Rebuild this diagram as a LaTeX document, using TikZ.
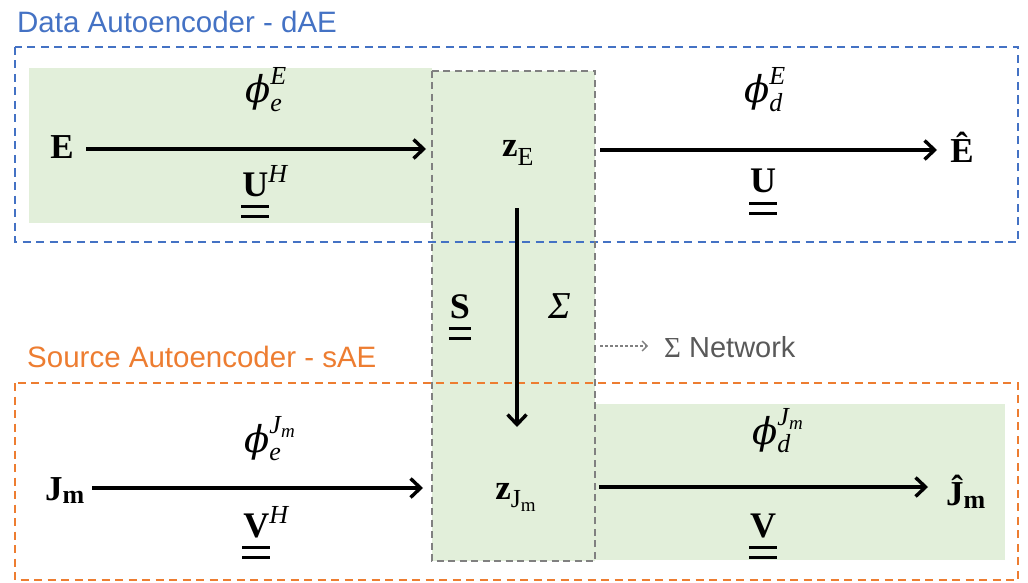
\documentclass[tikz,border=0pt]{standalone}
\usepackage{fontspec}
\setmainfont{Liberation Serif}
\newfontfamily\arialfont{Liberation Sans}
\newfontfamily\phifont{DejaVu Serif}
\usetikzlibrary{arrows.meta}
\definecolor{dblue}{RGB}{68,114,196}
\definecolor{dorange}{RGB}{237,125,49}
\definecolor{lgreen}{RGB}{226,239,218}
\definecolor{dgray}{RGB}{128,128,128}
\definecolor{tgray}{RGB}{89,89,89}
\newcommand{\dul}[1]{\setbox0=\hbox{#1}\hbox{\rlap{\kern-1pt\raisebox{-12pt}{\rule{\dimexpr\wd0+2pt\relax}{2.6pt}}}\rlap{\kern-1pt\raisebox{-22pt}{\rule{\dimexpr\wd0+2pt\relax}{2.6pt}}}\box0}}
\newcommand{\bigphi}{\mathord{\hbox{\phifont\itshape\fontsize{37}{40}\selectfont ϕ}}}
\newcommand{\scr}[1]{\hbox{\fontsize{26}{30}\selectfont #1}}
\newcommand{\sscr}[1]{\hbox{\fontsize{19}{22}\selectfont #1}}
\tikzset{
  greenfill/.style={fill=lgreen,draw=none},
  bluebox/.style={draw=dblue,line width=2pt,dash pattern=on 8pt off 5.5pt},
  orangebox/.style={draw=dorange,line width=2pt,dash pattern=on 8pt off 5.5pt},
  graybox/.style={draw=dgray,line width=2pt,dash pattern=on 7pt off 4.5pt},
  arr/.style={line width=3.4pt,-{Straight Barb[length=10pt,width=19pt,line width=3.4pt]}},
  mathlbl/.style={inner sep=0pt,anchor=base,font=\fontsize{36}{40}\selectfont},
  biglbl/.style={inner sep=0pt,anchor=base,font=\fontsize{35}{40}\selectfont},
  title/.style={inner sep=0pt,anchor=base west,font=\arialfont\fontsize{29.5}{34}\selectfont}
}
\begin{document}
\begin{tikzpicture}[x=1pt,y=-1pt]
\useasboundingbox (0,0) rectangle (1028,583);
% green fills
\fill[greenfill] (29,68) rectangle (432,223);
\fill[greenfill] (432,71) rectangle (595,561);
\fill[greenfill] (595,404) rectangle (1005,560);
% boxes
\draw[bluebox] (15,47) rectangle (1018,242);
\draw[orangebox] (15,383) rectangle (1018,580);
\draw[graybox] (432,71) rectangle (595,561);
% titles
\node[title,text=dblue] (t1) at (17,33) {Data Autoencoder - dAE};
\node[title,text=dorange] (t2) at (27,367) {Source Autoencoder - sAE};
% main nodes
\node[biglbl] (E) at (62,159) {$\mathbf{E}$};
\node[biglbl] (zE) at (518,157) {$\mathbf{z}_{\scr{E}}$};
\node[biglbl] (Eh) at (962,163) {\bfseries Ê};
\node[biglbl] (Jm) at (65,500) {$\mathbf{J}_{\scr{\bfseries m}}$};
\node[biglbl] (zJ) at (516,499) {$\mathbf{z}_{\scr{J}_{\sscr{m}}}$};
\node[biglbl] (Jh) at (966,505) {$\hbox{\bfseries Ĵ}_{\scr{\bfseries m}}$};
% labels
\node[mathlbl] (pe) at (266,103) {$\bigphi_{\scr{\itshape e}}^{\scr{\itshape E}}$};
\node[mathlbl] (UH) at (265,196) {$\dul{$\mathbf{U}$}^{\scr{\itshape H}}$};
\node[mathlbl] (pd) at (765,103) {$\bigphi_{\scr{\itshape d}}^{\scr{\itshape E}}$};
\node[mathlbl] (U) at (763,193) {$\dul{$\mathbf{U}$}$};
\node[mathlbl] (S) at (460,318) {$\dul{$\mathbf{S}$}$};
\node[inner sep=0pt,anchor=base,font=\fontsize{38}{40}\selectfont\itshape] (Sig) at (560,318) {Σ};
\node[mathlbl] (pej) at (270,452) {$\bigphi_{\scr{\itshape e}}^{\scr{\itshape J}_{\sscr{\itshape m}}}$};
\node[mathlbl] (VH) at (266,537) {$\dul{$\mathbf{V}$}^{\scr{\itshape H}}$};
\node[mathlbl] (pdj) at (778,444) {$\bigphi_{\scr{\itshape d}}^{\scr{\itshape J}_{\sscr{\itshape m}}}$};
\node[mathlbl] (V) at (763,537) {$\dul{$\mathbf{V}$}$};
% network legend
\node[inner sep=0pt,anchor=base west,text=tgray,font=\arialfont\fontsize{29}{34}\selectfont] (net) at (664,357) {{\rmfamily Σ} Network};
\coordinate (ns) at (600,346);
\coordinate (ne) at (648,346);
\draw[dgray,line width=1.3pt,dash pattern=on 3pt off 2pt,-{Straight Barb[length=5pt,width=10pt,line width=1.3pt]}] (ns) -- (ne);
% arrow end points
\coordinate (a1s) at (86,149);  \coordinate (a1e) at (426,149);
\coordinate (a2s) at (600,150); \coordinate (a2e) at (937,150);
\coordinate (vs) at (517,208);  \coordinate (ve) at (517,427);
\coordinate (a3s) at (92,488);  \coordinate (a3e) at (423,488);
\coordinate (a4s) at (599,487); \coordinate (a4e) at (928,487);
% arrows
\draw[arr] (a1s) -- (a1e);
\draw[arr] (a2s) -- (a2e);
\draw[arr] (vs) -- (ve);
\draw[arr] (a3s) -- (a3e);
\draw[arr] (a4s) -- (a4e);
\end{tikzpicture}
\end{document}
